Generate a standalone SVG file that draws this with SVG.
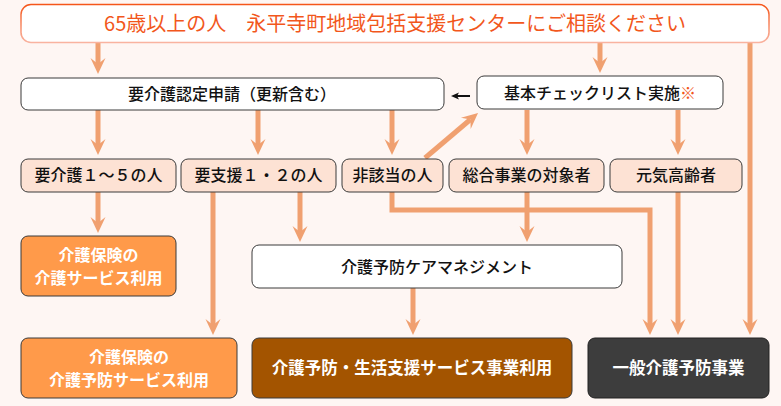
<svg xmlns="http://www.w3.org/2000/svg" width="781" height="406" viewBox="0 0 781 406">
<defs>
<style>
text{font-family:"Noto Sans CJK JP","Noto Sans",sans-serif;text-anchor:middle}
.t{font-size:16px;fill:#111111;font-weight:500}
.w{font-size:16.5px;fill:#ffffff;font-weight:700}
.w2{font-size:16px;fill:#ffffff;font-weight:700}
.box{fill:#ffffff;stroke:#3a3a3a;stroke-width:1}
.peach{fill:#FDE2D4;stroke:#3a3a3a;stroke-width:1}
.arr{fill:none;stroke:#F0A070;stroke-width:5;marker-end:url(#ah)}
</style>
<linearGradient id="tg" x1="0" y1="0" x2="0" y2="1">
<stop offset="0" stop-color="#F5561A"/>
<stop offset="1" stop-color="#F9B3A0"/>
</linearGradient>
<marker id="ah" markerUnits="userSpaceOnUse" markerWidth="20" markerHeight="16" refX="6" refY="0" orient="auto" overflow="visible">
<path d="M0,-7.5 L16,0 L0,7.5 L6,0 z" fill="#F0A070"/>
</marker>
<marker id="bh" markerUnits="userSpaceOnUse" markerWidth="10" markerHeight="8" refX="2" refY="0" orient="auto" overflow="visible">
<path d="M0,-3.5 L8,0 L0,3.5 L2,0 z" fill="#111"/>
</marker>
</defs>
<rect width="781" height="406" fill="#FEF6F3"/>

<g id="connectors">
<path class="arr" d="M98,43 V64"/>
<path class="arr" d="M600,43 V63"/>
<path class="arr" d="M750,43 V325"/>
<path class="arr" d="M98,110 V145"/>
<path class="arr" d="M258,110 V145"/>
<path class="arr" d="M392,110 V145"/>
<path class="arr" d="M527,110 V145"/>
<path class="arr" d="M678,110 V145"/>
<path class="arr" d="M425,158 L470.4,119.5"/>
<path class="arr" d="M98,192 V223"/>
<path class="arr" d="M213,192 V325"/>
<path class="arr" d="M300,192 V232"/>
<path class="arr" d="M392,192 V210 H650 V325"/>
<path class="arr" d="M527,192 V232"/>
<path class="arr" d="M678,192 V325"/>
<path class="arr" d="M413,288 V325"/>
<path d="M470,96 H457" stroke="#111" stroke-width="2" fill="none" marker-end="url(#bh)"/>
</g>

<g id="top">
<rect x="21" y="4.5" width="748" height="38" rx="10" fill="#ffffff" stroke="url(#tg)" stroke-width="1.5"/>
<text x="395" y="31" style="font-size:20px;fill:#F2571C">65歳以上の人　永平寺町地域包括支援センターにご相談ください</text>
</g>

<g id="apply">
<rect class="box" x="21" y="78" width="423" height="32" rx="7"/>
<text class="t" x="232" y="100">要介護認定申請（更新含む）</text>
</g>

<g id="checklist">
<rect class="box" x="477" y="76" width="246" height="33" rx="7"/>
<text class="t" x="600" y="99">基本チェックリスト実施<tspan fill="#F2571C">※</tspan></text>
</g>

<g id="kaigo15">
<rect class="peach" x="21" y="159" width="155" height="33" rx="7"/>
<text class="t" x="98.5" y="181">要介護１～５の人</text>
</g>
<g id="shien12">
<rect class="peach" x="181" y="159" width="155" height="33" rx="7"/>
<text class="t" x="258.5" y="181">要支援１・２の人</text>
</g>
<g id="higaitou">
<rect class="peach" x="342" y="159" width="101" height="33" rx="7"/>
<text class="t" x="392.5" y="181">非該当の人</text>
</g>
<g id="sougou">
<rect class="peach" x="449" y="159" width="155" height="33" rx="7"/>
<text class="t" x="526.5" y="181">総合事業の対象者</text>
</g>
<g id="genki">
<rect class="peach" x="610" y="159" width="132" height="33" rx="7"/>
<text class="t" x="676" y="181">元気高齢者</text>
</g>

<g id="kaigo-service">
<rect x="21" y="236" width="155" height="60" rx="7" fill="#FF9A4A" stroke="#3a3a3a" stroke-width="1"/>
<text class="w2" x="98.5" y="261">介護保険の</text>
<text class="w2" x="98.5" y="284">介護サービス利用</text>
</g>

<g id="caremanagement">
<rect class="box" x="252" y="245" width="370" height="43" rx="7"/>
<text class="t" x="437" y="273">介護予防ケアマネジメント</text>
</g>

<g id="yobou-service">
<rect x="21" y="338" width="216" height="60" rx="7" fill="#FF9A4A" stroke="#3a3a3a" stroke-width="1"/>
<text class="w2" x="129" y="363">介護保険の</text>
<text class="w2" x="129" y="386">介護予防サービス利用</text>
</g>

<g id="seikatsu">
<rect x="252" y="338" width="320" height="60" rx="7" fill="#A35400" stroke="#3a3a3a" stroke-width="1"/>
<text class="w" x="412" y="374">介護予防・生活支援サービス事業利用</text>
</g>

<g id="ippan">
<rect x="588" y="338" width="181" height="60" rx="7" fill="#3D3D3D" stroke="#222" stroke-width="1"/>
<text class="w" x="678.5" y="374">一般介護予防事業</text>
</g>
</svg>
